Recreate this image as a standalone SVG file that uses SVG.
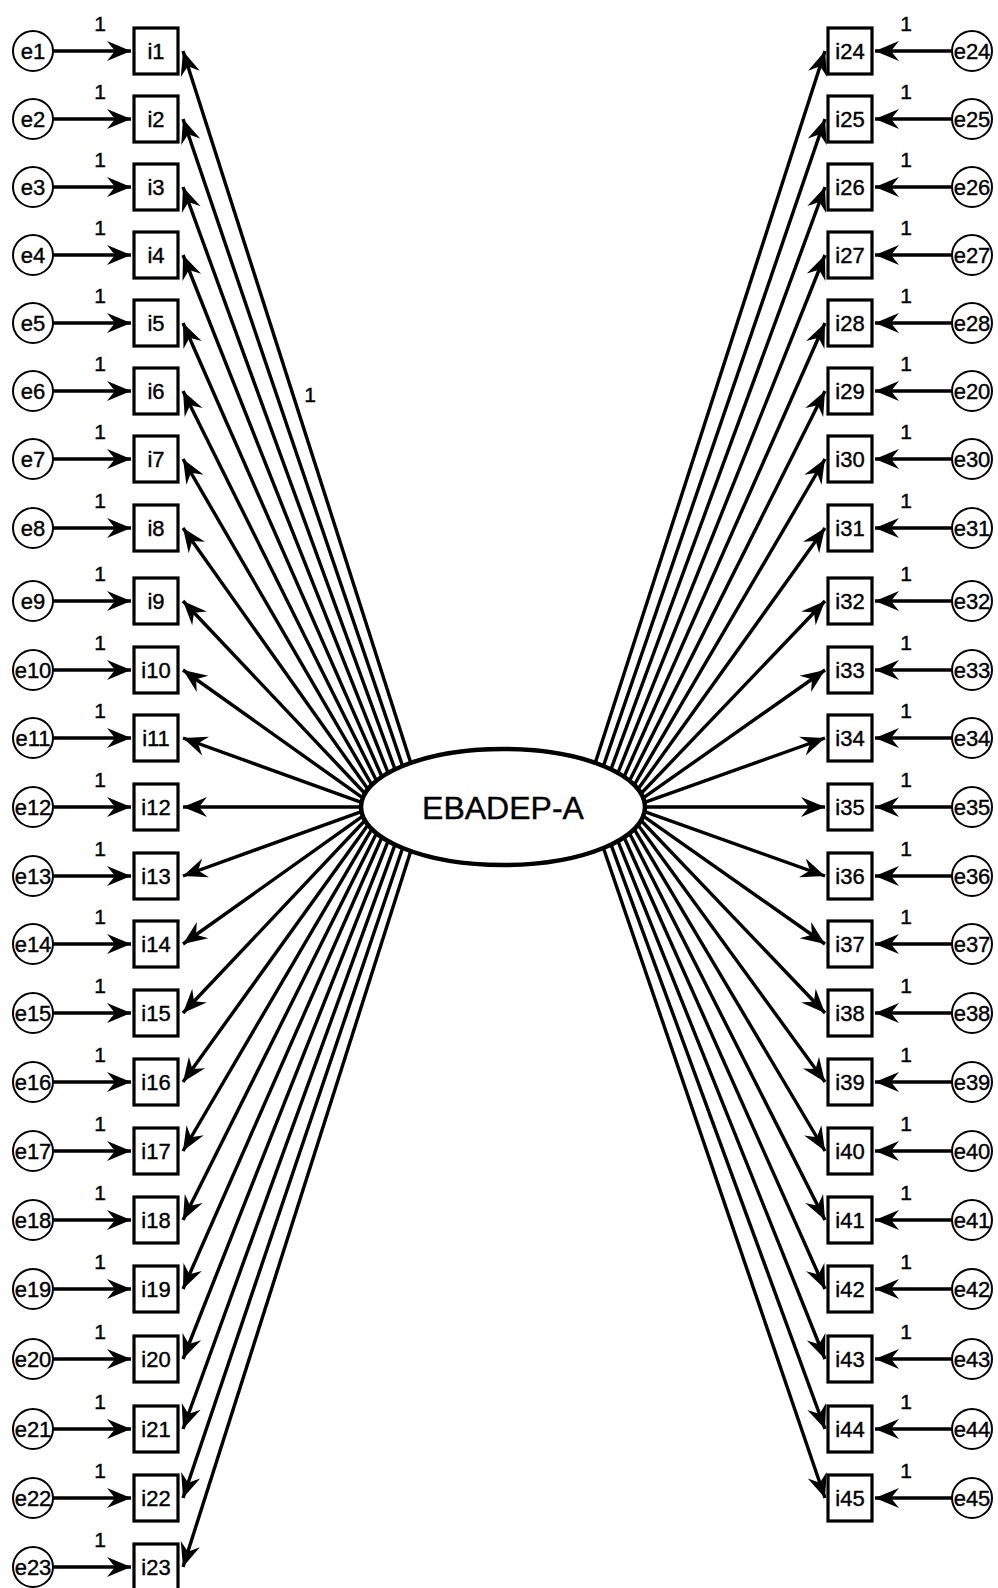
<svg xmlns="http://www.w3.org/2000/svg" width="998" height="1588" viewBox="0 0 998 1588">
<defs>
<marker id="ah" viewBox="-26 -13 28 26" refX="0" refY="0" markerWidth="28" markerHeight="26" markerUnits="userSpaceOnUse" orient="auto">
<path d="M0,0 L-24,-10 L-16,0 L-24,10 Z" fill="#000"/>
</marker>
</defs>
<style>
.c line{stroke:#000;stroke-width:3.4;marker-end:url(#ah)}
.box{fill:#fff;stroke:#000;stroke-width:3.2}
.err{fill:#fff;stroke:#000;stroke-width:2}
.t{font-family:"Liberation Sans",Arial,sans-serif;font-size:22px;fill:#000;stroke:#000;stroke-width:0.4;text-anchor:middle}
.one{font-family:"Liberation Sans",Arial,sans-serif;font-size:21px;fill:#000;stroke:#000;stroke-width:0.4;text-anchor:middle}
.lat{fill:#fff;stroke:#000;stroke-width:4.5}
.big{font-family:"Liberation Sans",Arial,sans-serif;font-size:32px;fill:#000;stroke:#000;stroke-width:0.4;text-anchor:middle}
</style>
<rect width="998" height="1588" fill="#fff"/>
<g id="connectors" class="c">
<line x1="53" y1="51" x2="131" y2="51"/>
<line x1="53" y1="119" x2="131" y2="119"/>
<line x1="53" y1="187" x2="131" y2="187"/>
<line x1="53" y1="255" x2="131" y2="255"/>
<line x1="53" y1="323" x2="131" y2="323"/>
<line x1="53" y1="391" x2="131" y2="391"/>
<line x1="53" y1="459" x2="131" y2="459"/>
<line x1="53" y1="528" x2="131" y2="528"/>
<line x1="53" y1="601" x2="131" y2="601"/>
<line x1="53" y1="670" x2="131" y2="670"/>
<line x1="53" y1="738" x2="131" y2="738"/>
<line x1="53" y1="807" x2="131" y2="807"/>
<line x1="53" y1="876" x2="131" y2="876"/>
<line x1="53" y1="944" x2="131" y2="944"/>
<line x1="53" y1="1013" x2="131" y2="1013"/>
<line x1="53" y1="1082" x2="131" y2="1082"/>
<line x1="53" y1="1151" x2="131" y2="1151"/>
<line x1="53" y1="1220" x2="131" y2="1220"/>
<line x1="53" y1="1289" x2="131" y2="1289"/>
<line x1="53" y1="1359" x2="131" y2="1359"/>
<line x1="53" y1="1429" x2="131" y2="1429"/>
<line x1="53" y1="1498" x2="131" y2="1498"/>
<line x1="53" y1="1567" x2="131" y2="1567"/>
<line x1="952" y1="51" x2="875" y2="51"/>
<line x1="952" y1="119" x2="875" y2="119"/>
<line x1="952" y1="187" x2="875" y2="187"/>
<line x1="952" y1="255" x2="875" y2="255"/>
<line x1="952" y1="323" x2="875" y2="323"/>
<line x1="952" y1="391" x2="875" y2="391"/>
<line x1="952" y1="459" x2="875" y2="459"/>
<line x1="952" y1="528" x2="875" y2="528"/>
<line x1="952" y1="601" x2="875" y2="601"/>
<line x1="952" y1="670" x2="875" y2="670"/>
<line x1="952" y1="738" x2="875" y2="738"/>
<line x1="952" y1="807" x2="875" y2="807"/>
<line x1="952" y1="876" x2="875" y2="876"/>
<line x1="952" y1="944" x2="875" y2="944"/>
<line x1="952" y1="1013" x2="875" y2="1013"/>
<line x1="952" y1="1082" x2="875" y2="1082"/>
<line x1="952" y1="1151" x2="875" y2="1151"/>
<line x1="952" y1="1220" x2="875" y2="1220"/>
<line x1="952" y1="1289" x2="875" y2="1289"/>
<line x1="952" y1="1359" x2="875" y2="1359"/>
<line x1="952" y1="1429" x2="875" y2="1429"/>
<line x1="952" y1="1498" x2="875" y2="1498"/>
<line x1="410.8" y1="762.9" x2="183" y2="51"/>
<line x1="402.6" y1="766.0" x2="183" y2="119"/>
<line x1="395.0" y1="769.3" x2="183" y2="187"/>
<line x1="388.1" y1="772.9" x2="183" y2="255"/>
<line x1="381.9" y1="776.7" x2="183" y2="323"/>
<line x1="376.5" y1="780.7" x2="183" y2="391"/>
<line x1="371.8" y1="784.8" x2="183" y2="459"/>
<line x1="367.9" y1="789.1" x2="183" y2="528"/>
<line x1="364.9" y1="793.5" x2="183" y2="601"/>
<line x1="362.7" y1="797.9" x2="183" y2="670"/>
<line x1="361.4" y1="802.4" x2="183" y2="738"/>
<line x1="361.0" y1="807" x2="183" y2="807"/>
<line x1="361.4" y1="811.6" x2="183" y2="876"/>
<line x1="362.7" y1="816.1" x2="183" y2="944"/>
<line x1="364.9" y1="820.5" x2="183" y2="1013"/>
<line x1="367.9" y1="824.9" x2="183" y2="1082"/>
<line x1="371.8" y1="829.2" x2="183" y2="1151"/>
<line x1="376.5" y1="833.3" x2="183" y2="1220"/>
<line x1="381.9" y1="837.3" x2="183" y2="1289"/>
<line x1="388.1" y1="841.1" x2="183" y2="1359"/>
<line x1="395.0" y1="844.7" x2="183" y2="1429"/>
<line x1="402.6" y1="848.0" x2="183" y2="1498"/>
<line x1="410.8" y1="851.1" x2="183" y2="1567"/>
<line x1="595.2" y1="762.9" x2="825" y2="51"/>
<line x1="603.4" y1="766.0" x2="825" y2="119"/>
<line x1="611.0" y1="769.3" x2="825" y2="187"/>
<line x1="617.9" y1="772.9" x2="825" y2="255"/>
<line x1="624.1" y1="776.7" x2="825" y2="323"/>
<line x1="629.5" y1="780.7" x2="825" y2="391"/>
<line x1="634.2" y1="784.8" x2="825" y2="459"/>
<line x1="638.1" y1="789.1" x2="825" y2="528"/>
<line x1="641.1" y1="793.5" x2="825" y2="601"/>
<line x1="643.3" y1="797.9" x2="825" y2="670"/>
<line x1="644.6" y1="802.4" x2="825" y2="738"/>
<line x1="645.0" y1="807" x2="825" y2="807"/>
<line x1="644.6" y1="811.6" x2="825" y2="876"/>
<line x1="643.3" y1="816.1" x2="825" y2="944"/>
<line x1="641.1" y1="820.5" x2="825" y2="1013"/>
<line x1="638.1" y1="824.9" x2="825" y2="1082"/>
<line x1="634.2" y1="829.2" x2="825" y2="1151"/>
<line x1="629.5" y1="833.3" x2="825" y2="1220"/>
<line x1="624.1" y1="837.3" x2="825" y2="1289"/>
<line x1="617.9" y1="841.1" x2="825" y2="1359"/>
<line x1="611.0" y1="844.7" x2="825" y2="1429"/>
<line x1="603.4" y1="848.0" x2="825" y2="1498"/>
</g>
<g id="labels-1">
<text class="one" x="100" y="31">1</text>
<text class="one" x="100" y="99">1</text>
<text class="one" x="100" y="167">1</text>
<text class="one" x="100" y="235">1</text>
<text class="one" x="100" y="303">1</text>
<text class="one" x="100" y="371">1</text>
<text class="one" x="100" y="439">1</text>
<text class="one" x="100" y="508">1</text>
<text class="one" x="100" y="581">1</text>
<text class="one" x="100" y="650">1</text>
<text class="one" x="100" y="718">1</text>
<text class="one" x="100" y="787">1</text>
<text class="one" x="100" y="856">1</text>
<text class="one" x="100" y="924">1</text>
<text class="one" x="100" y="993">1</text>
<text class="one" x="100" y="1062">1</text>
<text class="one" x="100" y="1131">1</text>
<text class="one" x="100" y="1200">1</text>
<text class="one" x="100" y="1269">1</text>
<text class="one" x="100" y="1339">1</text>
<text class="one" x="100" y="1409">1</text>
<text class="one" x="100" y="1478">1</text>
<text class="one" x="100" y="1547">1</text>
<text class="one" x="906" y="31">1</text>
<text class="one" x="906" y="99">1</text>
<text class="one" x="906" y="167">1</text>
<text class="one" x="906" y="235">1</text>
<text class="one" x="906" y="303">1</text>
<text class="one" x="906" y="371">1</text>
<text class="one" x="906" y="439">1</text>
<text class="one" x="906" y="508">1</text>
<text class="one" x="906" y="581">1</text>
<text class="one" x="906" y="650">1</text>
<text class="one" x="906" y="718">1</text>
<text class="one" x="906" y="787">1</text>
<text class="one" x="906" y="856">1</text>
<text class="one" x="906" y="924">1</text>
<text class="one" x="906" y="993">1</text>
<text class="one" x="906" y="1062">1</text>
<text class="one" x="906" y="1131">1</text>
<text class="one" x="906" y="1200">1</text>
<text class="one" x="906" y="1269">1</text>
<text class="one" x="906" y="1339">1</text>
<text class="one" x="906" y="1409">1</text>
<text class="one" x="906" y="1478">1</text>
<text class="one" x="310" y="402">1</text>
</g>
<g id="EBADEP-A"><ellipse class="lat" cx="503" cy="807" rx="142" ry="58"/><text class="big" x="503" y="819">EBADEP-A</text></g>
<g id="e1"><circle class="err" cx="33" cy="51" r="20"/><text class="t" x="33" y="59">e1</text></g>
<g id="e2"><circle class="err" cx="33" cy="119" r="20"/><text class="t" x="33" y="127">e2</text></g>
<g id="e3"><circle class="err" cx="33" cy="187" r="20"/><text class="t" x="33" y="195">e3</text></g>
<g id="e4"><circle class="err" cx="33" cy="255" r="20"/><text class="t" x="33" y="263">e4</text></g>
<g id="e5"><circle class="err" cx="33" cy="323" r="20"/><text class="t" x="33" y="331">e5</text></g>
<g id="e6"><circle class="err" cx="33" cy="391" r="20"/><text class="t" x="33" y="399">e6</text></g>
<g id="e7"><circle class="err" cx="33" cy="459" r="20"/><text class="t" x="33" y="467">e7</text></g>
<g id="e8"><circle class="err" cx="33" cy="528" r="20"/><text class="t" x="33" y="536">e8</text></g>
<g id="e9"><circle class="err" cx="33" cy="601" r="20"/><text class="t" x="33" y="609">e9</text></g>
<g id="e10"><circle class="err" cx="33" cy="670" r="20"/><text class="t" x="33" y="678">e10</text></g>
<g id="e11"><circle class="err" cx="33" cy="738" r="20"/><text class="t" x="33" y="746">e11</text></g>
<g id="e12"><circle class="err" cx="33" cy="807" r="20"/><text class="t" x="33" y="815">e12</text></g>
<g id="e13"><circle class="err" cx="33" cy="876" r="20"/><text class="t" x="33" y="884">e13</text></g>
<g id="e14"><circle class="err" cx="33" cy="944" r="20"/><text class="t" x="33" y="952">e14</text></g>
<g id="e15"><circle class="err" cx="33" cy="1013" r="20"/><text class="t" x="33" y="1021">e15</text></g>
<g id="e16"><circle class="err" cx="33" cy="1082" r="20"/><text class="t" x="33" y="1090">e16</text></g>
<g id="e17"><circle class="err" cx="33" cy="1151" r="20"/><text class="t" x="33" y="1159">e17</text></g>
<g id="e18"><circle class="err" cx="33" cy="1220" r="20"/><text class="t" x="33" y="1228">e18</text></g>
<g id="e19"><circle class="err" cx="33" cy="1289" r="20"/><text class="t" x="33" y="1297">e19</text></g>
<g id="e20"><circle class="err" cx="33" cy="1359" r="20"/><text class="t" x="33" y="1367">e20</text></g>
<g id="e21"><circle class="err" cx="33" cy="1429" r="20"/><text class="t" x="33" y="1437">e21</text></g>
<g id="e22"><circle class="err" cx="33" cy="1498" r="20"/><text class="t" x="33" y="1506">e22</text></g>
<g id="e23"><circle class="err" cx="33" cy="1567" r="20"/><text class="t" x="33" y="1575">e23</text></g>
<g id="i1"><rect class="box" x="134" y="28" width="44" height="46"/><text class="t" x="156" y="59">i1</text></g>
<g id="i2"><rect class="box" x="134" y="96" width="44" height="46"/><text class="t" x="156" y="127">i2</text></g>
<g id="i3"><rect class="box" x="134" y="164" width="44" height="46"/><text class="t" x="156" y="195">i3</text></g>
<g id="i4"><rect class="box" x="134" y="232" width="44" height="46"/><text class="t" x="156" y="263">i4</text></g>
<g id="i5"><rect class="box" x="134" y="300" width="44" height="46"/><text class="t" x="156" y="331">i5</text></g>
<g id="i6"><rect class="box" x="134" y="368" width="44" height="46"/><text class="t" x="156" y="399">i6</text></g>
<g id="i7"><rect class="box" x="134" y="436" width="44" height="46"/><text class="t" x="156" y="467">i7</text></g>
<g id="i8"><rect class="box" x="134" y="505" width="44" height="46"/><text class="t" x="156" y="536">i8</text></g>
<g id="i9"><rect class="box" x="134" y="578" width="44" height="46"/><text class="t" x="156" y="609">i9</text></g>
<g id="i10"><rect class="box" x="134" y="647" width="44" height="46"/><text class="t" x="156" y="678">i10</text></g>
<g id="i11"><rect class="box" x="134" y="715" width="44" height="46"/><text class="t" x="156" y="746">i11</text></g>
<g id="i12"><rect class="box" x="134" y="784" width="44" height="46"/><text class="t" x="156" y="815">i12</text></g>
<g id="i13"><rect class="box" x="134" y="853" width="44" height="46"/><text class="t" x="156" y="884">i13</text></g>
<g id="i14"><rect class="box" x="134" y="921" width="44" height="46"/><text class="t" x="156" y="952">i14</text></g>
<g id="i15"><rect class="box" x="134" y="990" width="44" height="46"/><text class="t" x="156" y="1021">i15</text></g>
<g id="i16"><rect class="box" x="134" y="1059" width="44" height="46"/><text class="t" x="156" y="1090">i16</text></g>
<g id="i17"><rect class="box" x="134" y="1128" width="44" height="46"/><text class="t" x="156" y="1159">i17</text></g>
<g id="i18"><rect class="box" x="134" y="1197" width="44" height="46"/><text class="t" x="156" y="1228">i18</text></g>
<g id="i19"><rect class="box" x="134" y="1266" width="44" height="46"/><text class="t" x="156" y="1297">i19</text></g>
<g id="i20"><rect class="box" x="134" y="1336" width="44" height="46"/><text class="t" x="156" y="1367">i20</text></g>
<g id="i21"><rect class="box" x="134" y="1406" width="44" height="46"/><text class="t" x="156" y="1437">i21</text></g>
<g id="i22"><rect class="box" x="134" y="1475" width="44" height="46"/><text class="t" x="156" y="1506">i22</text></g>
<g id="i23"><rect class="box" x="134" y="1544" width="44" height="46"/><text class="t" x="156" y="1575">i23</text></g>
<g id="i24"><rect class="box" x="828" y="28" width="44" height="46"/><text class="t" x="850" y="59">i24</text></g>
<g id="i25"><rect class="box" x="828" y="96" width="44" height="46"/><text class="t" x="850" y="127">i25</text></g>
<g id="i26"><rect class="box" x="828" y="164" width="44" height="46"/><text class="t" x="850" y="195">i26</text></g>
<g id="i27"><rect class="box" x="828" y="232" width="44" height="46"/><text class="t" x="850" y="263">i27</text></g>
<g id="i28"><rect class="box" x="828" y="300" width="44" height="46"/><text class="t" x="850" y="331">i28</text></g>
<g id="i29"><rect class="box" x="828" y="368" width="44" height="46"/><text class="t" x="850" y="399">i29</text></g>
<g id="i30"><rect class="box" x="828" y="436" width="44" height="46"/><text class="t" x="850" y="467">i30</text></g>
<g id="i31"><rect class="box" x="828" y="505" width="44" height="46"/><text class="t" x="850" y="536">i31</text></g>
<g id="i32"><rect class="box" x="828" y="578" width="44" height="46"/><text class="t" x="850" y="609">i32</text></g>
<g id="i33"><rect class="box" x="828" y="647" width="44" height="46"/><text class="t" x="850" y="678">i33</text></g>
<g id="i34"><rect class="box" x="828" y="715" width="44" height="46"/><text class="t" x="850" y="746">i34</text></g>
<g id="i35"><rect class="box" x="828" y="784" width="44" height="46"/><text class="t" x="850" y="815">i35</text></g>
<g id="i36"><rect class="box" x="828" y="853" width="44" height="46"/><text class="t" x="850" y="884">i36</text></g>
<g id="i37"><rect class="box" x="828" y="921" width="44" height="46"/><text class="t" x="850" y="952">i37</text></g>
<g id="i38"><rect class="box" x="828" y="990" width="44" height="46"/><text class="t" x="850" y="1021">i38</text></g>
<g id="i39"><rect class="box" x="828" y="1059" width="44" height="46"/><text class="t" x="850" y="1090">i39</text></g>
<g id="i40"><rect class="box" x="828" y="1128" width="44" height="46"/><text class="t" x="850" y="1159">i40</text></g>
<g id="i41"><rect class="box" x="828" y="1197" width="44" height="46"/><text class="t" x="850" y="1228">i41</text></g>
<g id="i42"><rect class="box" x="828" y="1266" width="44" height="46"/><text class="t" x="850" y="1297">i42</text></g>
<g id="i43"><rect class="box" x="828" y="1336" width="44" height="46"/><text class="t" x="850" y="1367">i43</text></g>
<g id="i44"><rect class="box" x="828" y="1406" width="44" height="46"/><text class="t" x="850" y="1437">i44</text></g>
<g id="i45"><rect class="box" x="828" y="1475" width="44" height="46"/><text class="t" x="850" y="1506">i45</text></g>
<g id="e24"><circle class="err" cx="972" cy="51" r="20"/><text class="t" x="972" y="59">e24</text></g>
<g id="e25"><circle class="err" cx="972" cy="119" r="20"/><text class="t" x="972" y="127">e25</text></g>
<g id="e26"><circle class="err" cx="972" cy="187" r="20"/><text class="t" x="972" y="195">e26</text></g>
<g id="e27"><circle class="err" cx="972" cy="255" r="20"/><text class="t" x="972" y="263">e27</text></g>
<g id="e28"><circle class="err" cx="972" cy="323" r="20"/><text class="t" x="972" y="331">e28</text></g>
<g id="e29"><circle class="err" cx="972" cy="391" r="20"/><text class="t" x="972" y="399">e20</text></g>
<g id="e30"><circle class="err" cx="972" cy="459" r="20"/><text class="t" x="972" y="467">e30</text></g>
<g id="e31"><circle class="err" cx="972" cy="528" r="20"/><text class="t" x="972" y="536">e31</text></g>
<g id="e32"><circle class="err" cx="972" cy="601" r="20"/><text class="t" x="972" y="609">e32</text></g>
<g id="e33"><circle class="err" cx="972" cy="670" r="20"/><text class="t" x="972" y="678">e33</text></g>
<g id="e34"><circle class="err" cx="972" cy="738" r="20"/><text class="t" x="972" y="746">e34</text></g>
<g id="e35"><circle class="err" cx="972" cy="807" r="20"/><text class="t" x="972" y="815">e35</text></g>
<g id="e36"><circle class="err" cx="972" cy="876" r="20"/><text class="t" x="972" y="884">e36</text></g>
<g id="e37"><circle class="err" cx="972" cy="944" r="20"/><text class="t" x="972" y="952">e37</text></g>
<g id="e38"><circle class="err" cx="972" cy="1013" r="20"/><text class="t" x="972" y="1021">e38</text></g>
<g id="e39"><circle class="err" cx="972" cy="1082" r="20"/><text class="t" x="972" y="1090">e39</text></g>
<g id="e40"><circle class="err" cx="972" cy="1151" r="20"/><text class="t" x="972" y="1159">e40</text></g>
<g id="e41"><circle class="err" cx="972" cy="1220" r="20"/><text class="t" x="972" y="1228">e41</text></g>
<g id="e42"><circle class="err" cx="972" cy="1289" r="20"/><text class="t" x="972" y="1297">e42</text></g>
<g id="e43"><circle class="err" cx="972" cy="1359" r="20"/><text class="t" x="972" y="1367">e43</text></g>
<g id="e44"><circle class="err" cx="972" cy="1429" r="20"/><text class="t" x="972" y="1437">e44</text></g>
<g id="e45"><circle class="err" cx="972" cy="1498" r="20"/><text class="t" x="972" y="1506">e45</text></g>
</svg>
